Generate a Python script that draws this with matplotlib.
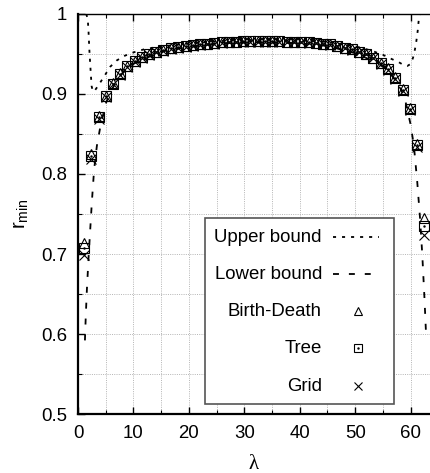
import matplotlib
matplotlib.use("Agg")
import matplotlib.pyplot as plt
from matplotlib.lines import Line2D
from matplotlib.patches import Rectangle

plt.rcParams['font.family'] = ['Liberation Sans', 'DejaVu Sans']
plt.rcParams['mathtext.fontset'] = 'custom'
plt.rcParams['mathtext.rm'] = 'Liberation Sans'
plt.rcParams['mathtext.it'] = 'Liberation Sans'

# simulated points (lambda values shared by all three models)
lam = [1.1, 2.4, 3.7, 5.0, 6.3, 7.6, 8.9, 10.2, 11.5, 12.8, 14.1, 15.4,
       16.8, 18.1, 19.4, 20.7, 22.0, 23.3, 24.6, 25.9, 27.2, 28.5, 29.8, 31.1,
       32.4, 33.7, 35.0, 36.3, 37.7, 39.0, 40.3, 41.6, 42.9, 44.2, 45.5, 46.8,
       48.1, 49.4, 50.7, 52.0, 53.3, 54.6, 55.9, 57.2, 58.6, 59.9, 61.2, 62.5]

tree = [0.7075, 0.822, 0.871, 0.897, 0.913, 0.925, 0.935, 0.941, 0.946, 0.950,
        0.953, 0.955, 0.957, 0.959, 0.960, 0.961, 0.962, 0.963, 0.964, 0.9645,
        0.965, 0.9655, 0.966, 0.966, 0.966, 0.966, 0.966, 0.966, 0.9655, 0.9655,
        0.965, 0.9645, 0.964, 0.963, 0.962, 0.960, 0.958, 0.956, 0.953, 0.950,
        0.945, 0.939, 0.931, 0.920, 0.905, 0.881, 0.836, 0.735]

birth_death = [0.714, 0.825, 0.872, 0.898, 0.914, 0.926, 0.935, 0.941, 0.946, 0.950,
               0.953, 0.955, 0.957, 0.959, 0.960, 0.961, 0.962, 0.963, 0.964, 0.9645,
               0.965, 0.9655, 0.966, 0.966, 0.966, 0.966, 0.966, 0.966, 0.9655, 0.9655,
               0.965, 0.9645, 0.964, 0.963, 0.962, 0.960, 0.958, 0.956, 0.953, 0.950,
               0.945, 0.939, 0.932, 0.921, 0.906, 0.882, 0.838, 0.745]

grid = [0.699, 0.819, 0.869, 0.896, 0.912, 0.924, 0.934, 0.940, 0.945, 0.949,
        0.952, 0.954, 0.956, 0.958, 0.959, 0.960, 0.961, 0.962, 0.963, 0.964,
        0.9645, 0.965, 0.9655, 0.9655, 0.9655, 0.9655, 0.9655, 0.9655, 0.965, 0.965,
        0.9645, 0.964, 0.9635, 0.9625, 0.961, 0.9595, 0.9575, 0.9555, 0.9525, 0.9495,
        0.9445, 0.938, 0.930, 0.919, 0.904, 0.880, 0.834, 0.724]

# analytical bounds
upper_lam = [1.45, 1.75, 1.9, 2.05, 2.25, 2.45, 2.7, 3.0, 3.7, 4.9, 5.8, 7.0,
             8.5, 10, 12, 15, 20, 25, 30, 35, 40, 45, 48, 51, 53, 55, 56.3,
             57.8, 58.8, 59.4, 60.1, 60.6, 61.0, 61.3, 61.5, 61.65]
upper = [1.0, 0.995, 0.978, 0.955, 0.932, 0.91, 0.903, 0.904, 0.911, 0.924, 0.934, 0.942,
         0.948, 0.952, 0.956, 0.9595, 0.963, 0.966, 0.9675, 0.9675, 0.967, 0.965, 0.962,
         0.958, 0.954, 0.949, 0.9446, 0.940, 0.936, 0.935, 0.938, 0.949, 0.964, 0.98,
         0.995, 1.0]

lower_lam = [1.25, 1.4, 1.6, 1.9, 2.2, 2.5, 2.9, 3.4, 4.0, 5.0, 6.0, 8, 10, 15, 20,
             25, 30, 35, 40, 45, 50, 54, 56, 58, 59, 60, 60.6, 61.2, 61.7, 62.1,
             62.5, 62.8]
lower = [0.592, 0.622, 0.655, 0.695, 0.73, 0.765, 0.805, 0.835, 0.858, 0.888, 0.905,
         0.926, 0.938, 0.953, 0.959, 0.963, 0.9645, 0.9645, 0.9635, 0.960, 0.951,
         0.939, 0.929, 0.91, 0.893, 0.862, 0.835, 0.79, 0.745, 0.70, 0.645, 0.598]

fig = plt.figure(figsize=(4.30, 4.73), dpi=100)
ax = fig.add_axes([78 / 430, 1 - 414 / 473, 352 / 430, 400 / 473])

dot_style = (0, (1.7, 3.3))
dash_style = (0, (3.3, 5.5))

ax.plot(upper_lam, upper, color='black', lw=1.3, linestyle=dot_style)
ax.plot(lower_lam, lower, color='black', lw=1.3, linestyle=dash_style)

ax.plot(lam, birth_death, linestyle='none', marker='^', markersize=7,
        mfc='none', mec='black', mew=0.8)
ax.plot(lam, tree, linestyle='none', marker='s', markersize=6.5,
        mfc='none', mec='black', mew=0.8)
ax.plot(lam, tree, linestyle='none', marker='.', markersize=1.5, color='black')
ax.plot(lam, grid, linestyle='none', marker='x', markersize=6.5,
        mec='black', mew=0.8)

ax.set_xlim(0, 63.5)
ax.set_ylim(0.5, 1.0)
ax.set_xticks([0, 10, 20, 30, 40, 50, 60])
ax.set_xticks([5, 15, 25, 35, 45, 55], minor=True)
ax.set_yticks([0.5, 0.6, 0.7, 0.8, 0.9, 1.0])
ax.set_yticklabels(['0.5', '0.6', '0.7', '0.8', '0.9', '1'])
ax.set_yticks([0.55, 0.65, 0.75, 0.85, 0.95], minor=True)

ax.grid(True, which='both', color='#b4b4b4', lw=0.7, linestyle=(0, (1, 1.3)))
ax.set_axisbelow(True)

ax.tick_params(which='both', direction='in', top=True, right=False,
               labelsize=13.4, pad=8, color='black')
ax.tick_params(which='major', length=5, width=1)
ax.tick_params(which='minor', length=3, width=0.8)

ax.spines['right'].set_visible(False)
ax.spines['left'].set_linewidth(1.6)
ax.spines['bottom'].set_linewidth(1.6)
ax.spines['top'].set_linewidth(1.0)

ax.set_xlabel('λ', fontsize=15, family=['Liberation Serif', 'DejaVu Serif'], labelpad=9)
ax.set_ylabel(r'r$_{\mathrm{min}}$', fontsize=14.5, labelpad=7)

# gnuplot-like key: text right aligned, sample on the right
ax.add_patch(Rectangle((0.361, 0.025), 0.537, 0.465, transform=ax.transAxes,
                       facecolor='white', edgecolor='#555555', lw=1.2, zorder=5))
key_y = [0.4425, 0.35, 0.2575, 0.165, 0.07]
key_labels = ['Upper bound', 'Lower bound', 'Birth-Death', 'Tree', 'Grid']
for yy, lab in zip(key_y, key_labels):
    ax.text(0.693, yy, lab, transform=ax.transAxes, ha='right', va='center',
            fontsize=13.4, zorder=6)

ax.add_line(Line2D([0.724, 0.855], [key_y[0]] * 2, transform=ax.transAxes,
                   color='black', lw=1.3, linestyle=dot_style, zorder=6))
ax.add_line(Line2D([0.724, 0.855], [key_y[1]] * 2, transform=ax.transAxes,
                   color='black', lw=1.3, linestyle=dash_style, zorder=6))
ax.add_line(Line2D([0.795], [key_y[2]], transform=ax.transAxes, marker='^',
                   markersize=6, mfc='none', mec='black', mew=0.8, zorder=6))
ax.add_line(Line2D([0.795], [key_y[3]], transform=ax.transAxes, marker='s',
                   markersize=6, mfc='none', mec='black', mew=0.8, zorder=6))
ax.add_line(Line2D([0.795], [key_y[3]], transform=ax.transAxes, marker='.',
                   markersize=1.5, color='black', zorder=6))
ax.add_line(Line2D([0.795], [key_y[4]], transform=ax.transAxes, marker='x',
                   markersize=6, mec='black', mew=0.8, zorder=6))

fig.savefig('out.png', dpi=100)
